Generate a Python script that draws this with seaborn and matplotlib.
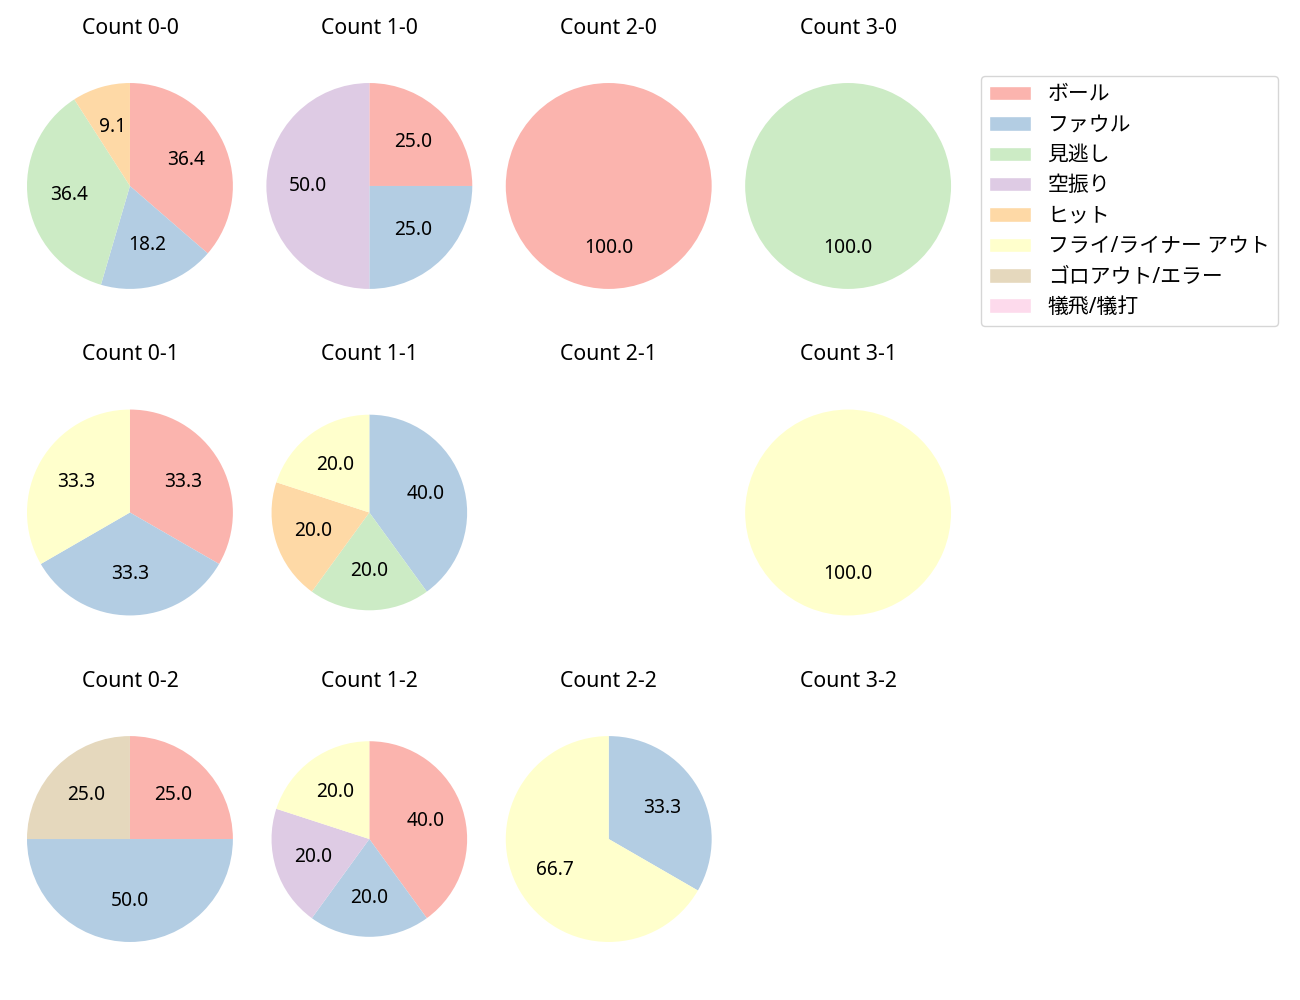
import matplotlib
matplotlib.use("Agg")
import matplotlib.pyplot as plt
import seaborn as sns
from matplotlib.patches import Patch

sns.set_theme(style="white")
plt.rcParams['font.family'] = ['Noto Sans', 'Noto Sans CJK JP', 'DejaVu Sans']
plt.rcParams['text.color'] = 'black'

categories = ["ボール", "ファウル", "見逃し", "空振り", "ヒット",
              "フライ/ライナー アウト", "ゴロアウト/エラー", "犠飛/犠打"]

# counts per category for each ball-strike count (order = categories)
count_titles = [["Count 0-0", "Count 1-0", "Count 2-0", "Count 3-0"],
                ["Count 0-1", "Count 1-1", "Count 2-1", "Count 3-1"],
                ["Count 0-2", "Count 1-2", "Count 2-2", "Count 3-2"]]
c00 = [4, 2, 4, 0, 1, 0, 0, 0]
c10 = [1, 1, 0, 2, 0, 0, 0, 0]
c20 = [1, 0, 0, 0, 0, 0, 0, 0]
c30 = [0, 0, 1, 0, 0, 0, 0, 0]
c01 = [1, 1, 0, 0, 0, 1, 0, 0]
c11 = [0, 2, 1, 0, 1, 1, 0, 0]
c21 = [0, 0, 0, 0, 0, 0, 0, 0]
c31 = [0, 0, 0, 0, 0, 1, 0, 0]
c02 = [1, 2, 0, 0, 0, 0, 1, 0]
c12 = [2, 1, 0, 1, 0, 1, 0, 0]
c22 = [0, 1, 0, 0, 0, 2, 0, 0]
c32 = [0, 0, 0, 0, 0, 0, 0, 0]
grid_counts = [[c00, c10, c20, c30],
               [c01, c11, c21, c31],
               [c02, c12, c22, c32]]

radius_grid = [[1.0, 1.0, 1.0, 1.0],
               [1.0, 0.95, 1.0, 1.0],
               [1.0, 0.95, 1.0, 1.0]]

colors = sns.color_palette("Pastel1", len(categories))

fig, axes = plt.subplots(3, 4, figsize=(13, 10), dpi=100)
fig.subplots_adjust(left=0.01285, right=0.7395, top=0.958, bottom=0.017,
                    wspace=0.057, hspace=0.134)

for r in range(3):
    for c in range(4):
        ax = axes[r][c]
        vals = grid_counts[r][c]
        idx = [i for i, v in enumerate(vals) if v > 0]
        if idx:
            ax.pie([vals[i] for i in idx], colors=[colors[i] for i in idx],
                   autopct="%.1f", startangle=90, counterclock=False,
                   radius=radius_grid[r][c], pctdistance=0.6,
                   wedgeprops={"linewidth": 0},
                   textprops={"fontsize": 13.8, "color": "black"})
        ax.set_title(count_titles[r][c], fontsize=15.3, color="black")
        ax.set_xlim(-1.1, 1.1)
        ax.set_ylim(-1.1, 1.1)
        ax.set_aspect("equal", adjustable="datalim")
        ax.axis("off")

handles = [Patch(facecolor=colors[i], label=categories[i]) for i in range(len(categories))]
leg = fig.legend(handles=handles, loc="upper left", bbox_to_anchor=(0.7546, 0.924),
                 borderaxespad=0, fontsize=15, frameon=True, labelspacing=0.45)
for t in leg.get_texts():
    t.set_color("black")

fig.savefig("out.png", dpi=100)
